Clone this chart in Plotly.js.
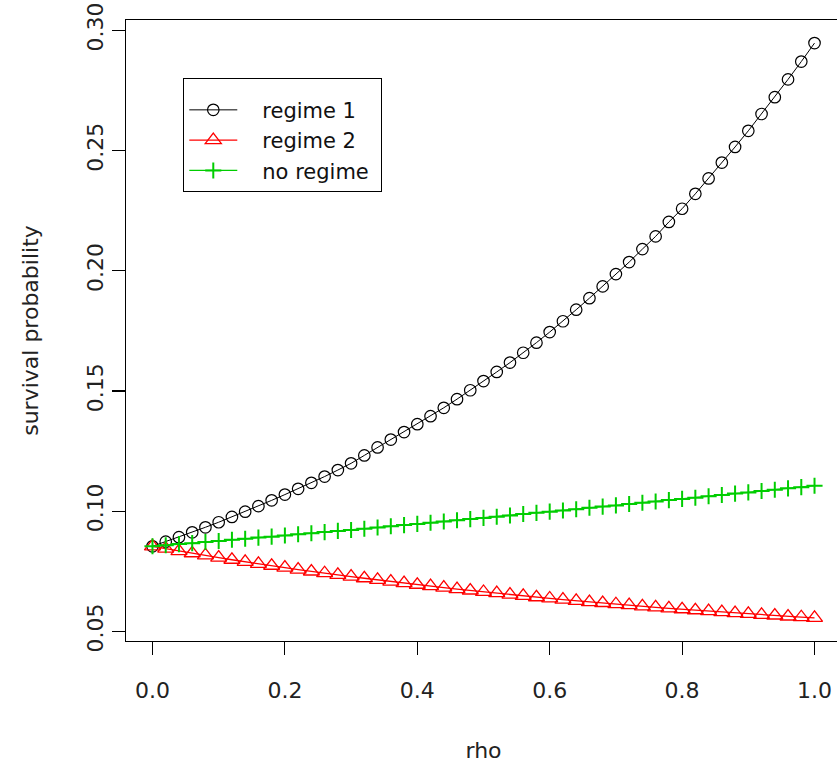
<!DOCTYPE html>
<html><head><meta charset="utf-8">
<script src="https://cdn.plot.ly/plotly-3.0.1.min.js"></script>
<style>html,body{margin:0;padding:0;overflow:hidden;background:#fff}#chart{width:843px;height:767px}</style>
</head><body><div id="chart"></div>
<script>
const rho = [0.00,0.02,0.04,0.06,0.08,0.10,0.12,0.14,0.16,0.18,0.20,0.22,0.24,0.26,0.28,0.30,0.32,0.34,0.36,0.38,0.40,0.42,0.44,0.46,0.48,0.50,0.52,0.54,0.56,0.58,0.60,0.62,0.64,0.66,0.68,0.70,0.72,0.74,0.76,0.78,0.80,0.82,0.84,0.86,0.88,0.90,0.92,0.94,0.96,0.98,1.00];
const regime1 = [0.0854,0.0873,0.0892,0.0912,0.0933,0.0954,0.0976,0.0998,0.1021,0.1045,0.1069,0.1093,0.1118,0.1144,0.1171,0.1199,0.1232,0.1265,0.1298,0.1329,0.1362,0.1395,0.1430,0.1466,0.1503,0.1541,0.1579,0.1618,0.1659,0.1701,0.1745,0.1790,0.1838,0.1886,0.1935,0.1986,0.2036,0.2090,0.2143,0.2203,0.2258,0.2320,0.2384,0.2450,0.2515,0.2582,0.2652,0.2722,0.2796,0.2870,0.2947];
const regime2 = [0.0854,0.0844,0.0834,0.0825,0.0816,0.0807,0.0798,0.0789,0.0781,0.0773,0.0765,0.0757,0.0749,0.0742,0.0735,0.0728,0.0721,0.0714,0.0707,0.0701,0.0694,0.0688,0.0682,0.0676,0.0670,0.0664,0.0659,0.0653,0.0648,0.0642,0.0637,0.0632,0.0627,0.0622,0.0618,0.0613,0.0609,0.0604,0.0600,0.0596,0.0592,0.0588,0.0584,0.0580,0.0576,0.0573,0.0569,0.0566,0.0562,0.0559,0.0556];
const noRegime = [0.0854,0.0858,0.0863,0.0867,0.0872,0.0876,0.0881,0.0885,0.0890,0.0894,0.0899,0.0904,0.0908,0.0913,0.0918,0.0922,0.0927,0.0932,0.0937,0.0942,0.0947,0.0952,0.0957,0.0962,0.0967,0.0972,0.0977,0.0982,0.0988,0.0993,0.0998,0.1003,0.1008,0.1014,0.1019,0.1024,0.1030,0.1035,0.1040,0.1046,0.1051,0.1056,0.1062,0.1067,0.1073,0.1078,0.1084,0.1089,0.1095,0.1100,0.1106];
const seriesNames = ["regime 1", "regime 2", "no regime"];
const xTicks = [0.0,0.2,0.4,0.6,0.8,1.0];
const yTicks = [0.05,0.10,0.15,0.20,0.25,0.30];

const FONT = "DejaVu Sans, Liberation Sans, Arial, sans-serif";
const PAD = "\u00a0\u00a0\u00a0";
const traces = [
  {x: rho, y: regime1, name: PAD + seriesNames[0], mode: "lines+markers", legendgroup: "a",
   line: {color: "#000000", width: 1},
   marker: {symbol: "circle-open", size: 11.5, color: "#000000", line: {width: 1.2, color: "#000000"}}},
  {x: rho, y: regime2, name: PAD + seriesNames[1], mode: "lines+markers", legendgroup: "b",
   line: {color: "#FF0000", width: 1.3},
   marker: {symbol: "triangle-up-open", size: 14, color: "#FF0000", line: {width: 1.3, color: "#FF0000"}}},
  {x: rho, y: noRegime, name: PAD + seriesNames[2] + "\u00a0", mode: "lines+markers", legendgroup: "c",
   line: {color: "#00CD00", width: 1.3},
   marker: {symbol: "cross-thin-open", size: 11.5, color: "#00CD00", line: {width: 2, color: "#00CD00"}}}
];
const layout = {
  width: 843, height: 767,
  margin: {l: 126, r: 2, t: 20, b: 126},
  paper_bgcolor: "#fff", plot_bgcolor: "#fff",
  font: {family: FONT, size: 22, color: "#222"},
  showlegend: true,
  legend: {x: 0.0797, y: 0.9066, xanchor: "left", yanchor: "top",
    bgcolor: "#fff", bordercolor: "#000", borderwidth: 1.3,
    font: {family: FONT, size: 21, color: "#111"},
    title: {text: "\u00a0", font: {family: FONT, size: 8}},
    traceorder: "grouped", tracegroupgap: 0, itemwidth: 48},
  xaxis: {range: [-0.04, 1.04], tickvals: xTicks, tickformat: ".1f",
    showgrid: false, zeroline: false, showline: true, mirror: true, linecolor: "#000", linewidth: 1.3,
    ticks: "outside", ticklen: 13, tickwidth: 1.2, tickcolor: "#000", ticklabelstandoff: 16,
    tickfont: {family: FONT, size: 22, color: "#222"},
    title: {text: "rho", font: {family: FONT, size: 22, color: "#222"}, standoff: 41}, automargin: false},
  yaxis: {range: [0.0460, 0.3043], tickvals: yTicks, tickformat: ".2f", tickangle: -90,
    showgrid: false, zeroline: false, showline: true, mirror: true, linecolor: "#000", linewidth: 1.3,
    ticks: "outside", ticklen: 13, tickwidth: 1.2, tickcolor: "#000", ticklabelstandoff: 0,
    tickfont: {family: FONT, size: 22, color: "#222"},
    title: {text: "survival probability", font: {family: FONT, size: 22, color: "#222"}, standoff: 38}, automargin: false}
};
Plotly.newPlot("chart", traces, layout, {displayModeBar: false, staticPlot: true});
</script></body></html>
